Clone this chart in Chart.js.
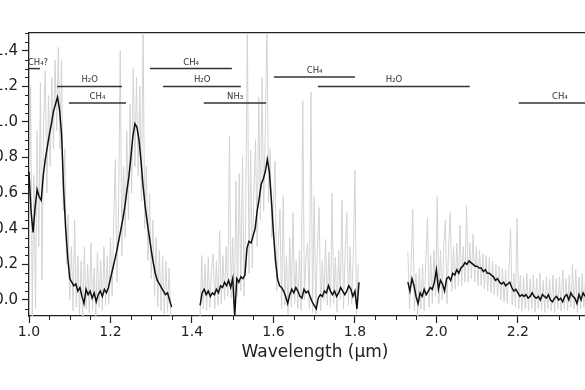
<!DOCTYPE html>
<html>
<head>
<meta charset="utf-8">
<script src="https://cdn.jsdelivr.net/npm/chart.js@4"></script>
<style>
  html, body { margin: 0; padding: 0; background: #fff; overflow: hidden; width: 585px; height: 390px; }
  #wrap { position: absolute; left: -20px; top: 0; width: 680px; height: 390px; }
</style>
</head>
<body>
<div id="wrap"><canvas id="spec" width="680" height="390"></canvas></div>
<script>
// wavelength grid (um): start of each segment, sample step
const blackStart = [1.00, 1.42, 1.93];
const blackStep = 0.005;
const grayStart = [1.00, 1.42, 1.93];
const grayStep = 0.004;

// smoothed spectrum (black)
const black1 = [0.72,0.50,0.38,0.52,0.62,0.58,0.56,0.70,0.79,0.86,
  0.93,0.99,1.06,1.10,1.14,1.07,0.93,0.62,0.40,0.24,
  0.12,0.10,0.08,0.09,0.05,0.07,0.02,-0.02,0.06,0.03,
  0.05,0.01,0.04,-0.01,0.03,0.05,0.02,0.06,0.04,0.07,
  0.12,0.17,0.22,0.27,0.33,0.39,0.45,0.52,0.61,0.69,
  0.80,0.92,0.99,0.97,0.90,0.78,0.64,0.53,0.44,0.36,
  0.28,0.21,0.15,0.11,0.09,0.07,0.05,0.03,0.04,0.00,
  -0.04];
const black2 = [-0.03,0.04,0.06,0.03,0.05,0.02,0.04,0.03,0.06,0.04,
  0.08,0.07,0.10,0.08,0.11,0.07,0.12,-0.09,0.12,0.10,
  0.13,0.12,0.14,0.29,0.33,0.32,0.36,0.40,0.50,0.57,
  0.65,0.68,0.72,0.79,0.72,0.56,0.38,0.22,0.12,0.08,
  0.07,0.05,0.02,-0.02,0.03,0.06,0.04,0.07,0.05,0.02,
  0.01,0.06,0.04,0.05,0.02,-0.01,-0.03,-0.05,0.01,0.03,
  0.02,0.05,0.04,0.08,0.05,0.03,0.05,0.02,0.04,0.07,
  0.05,0.03,0.05,0.08,0.06,0.02,0.05,-0.05,0.10];
const black3 = [0.10,0.05,0.12,0.08,0.02,-0.02,0.04,0.02,0.06,0.03,
  0.05,0.07,0.06,0.10,0.17,0.06,0.11,0.09,0.05,0.12,
  0.13,0.11,0.15,0.14,0.17,0.15,0.18,0.19,0.21,0.20,
  0.22,0.21,0.20,0.19,0.19,0.18,0.18,0.16,0.17,0.15,
  0.15,0.14,0.13,0.11,0.12,0.10,0.09,0.10,0.08,0.09,
  0.10,0.07,0.05,0.06,0.04,0.02,0.03,0.02,0.03,0.01,
  0.02,0.04,0.02,0.01,0.02,0.00,0.03,0.02,0.01,0.03,
  0.00,-0.01,0.01,0.02,0.00,0.01,-0.01,0.02,0.03,0.00,
  0.04,0.02,0.01,-0.02,0.03,0.00,0.04,0.02];

// raw spectrum (grey)
const gray1 = [0.30,1.20,-0.09,0.70,-0.05,0.95,0.30,1.22,0.11,1.00,
  1.29,0.60,1.15,0.75,1.25,0.85,1.35,0.95,1.42,0.85,
  1.35,0.50,0.85,0.20,0.48,0.00,0.30,-0.06,0.45,-0.04,
  0.25,-0.08,0.22,-0.09,0.30,-0.05,0.20,-0.07,0.32,-0.06,
  0.18,-0.09,0.27,-0.04,0.22,-0.06,0.30,-0.03,0.25,-0.02,
  0.35,0.02,0.45,0.79,0.10,0.55,1.40,0.25,0.75,0.35,
  0.95,0.45,1.10,0.60,1.30,0.75,1.25,0.70,1.20,0.55,
  1.55,0.40,0.75,0.22,0.60,0.12,0.45,0.02,0.35,-0.04,
  0.28,-0.06,0.25,-0.08,0.22,-0.07,0.18,-0.09];
const gray2 = [-0.09,0.25,-0.05,0.20,-0.06,0.24,-0.04,0.18,0.26,-0.05,
  0.22,-0.03,0.39,-0.02,0.25,0.00,0.30,0.02,0.92,0.01,
  0.35,-0.09,0.67,0.02,0.71,0.05,0.81,0.02,0.50,1.55,
  0.15,0.84,0.18,0.60,0.90,0.30,1.14,0.45,1.25,0.50,
  0.95,1.55,0.55,0.85,0.35,0.55,0.78,0.05,0.30,0.51,
  -0.05,0.58,-0.03,0.25,-0.08,0.35,-0.04,0.49,-0.02,0.22,
  -0.05,0.28,-0.06,1.12,0.00,0.25,0.32,-0.05,1.17,-0.07,
  0.58,-0.08,0.30,0.52,-0.06,0.22,0.00,0.34,-0.03,0.27,
  -0.04,0.60,-0.02,0.24,-0.07,0.28,0.00,0.56,-0.05,0.26,
  0.49,-0.03,0.30,-0.02,0.25,0.73,-0.08,0.20];
const gray3 = [0.27,-0.05,0.20,0.51,-0.06,0.15,-0.09,0.18,-0.05,0.20,
  -0.06,0.22,0.46,-0.04,0.25,-0.02,0.28,0.02,0.58,-0.02,
  0.28,0.00,0.30,0.45,-0.02,0.30,0.49,0.05,0.30,0.06,
  0.32,0.08,0.42,0.08,0.30,0.10,0.53,0.10,0.32,0.12,
  0.37,0.10,0.30,0.08,0.28,0.08,0.26,0.06,0.25,0.05,
  0.24,0.04,0.22,0.03,0.20,0.02,0.19,0.00,0.18,-0.01,
  0.17,-0.02,0.16,0.40,-0.03,0.15,-0.04,0.46,-0.05,0.14,
  -0.06,0.13,-0.05,0.15,-0.06,0.12,-0.05,0.14,-0.07,0.12,
  -0.05,0.15,-0.06,0.11,-0.07,0.13,-0.05,0.12,-0.06,0.14,
  -0.07,0.12,-0.05,0.13,-0.06,0.17,-0.05,0.12,-0.06,0.14,
  -0.04,0.20,-0.05,0.17,-0.07,0.13,-0.05,0.15,-0.04,0.12];

// absorption band markers
const annNames  = ['CH₄?', 'H₂O', 'CH₄', 'CH₄', 'H₂O', 'NH₃', 'CH₄', 'H₂O', 'CH₄'];
const annStart  = [1.000, 1.069, 1.098, 1.297, 1.329, 1.429, 1.601, 1.709, 2.202];
const annEnd    = [1.027, 1.228, 1.238, 1.498, 1.520, 1.582, 1.800, 2.082, 2.404];
const annLevel  = [1.300, 1.200, 1.107, 1.300, 1.200, 1.107, 1.253, 1.200, 1.107];
const annLabelX = [1.022, 1.149, 1.168, 1.398, 1.425, 1.506, 1.701, 1.896, 2.303];

const blackSegs = [black1, black2, black3];
const graySegs = [gray1, gray2, gray3];

const isMajor = (v) => Math.abs(v / 0.2 - Math.round(v / 0.2)) < 1e-6;
const axisColor = '#222';

Chart.defaults.font.family = "'DejaVu Sans', sans-serif";
Chart.defaults.color = axisColor;

const datasets = [];
graySegs.forEach((vals, s) => {
  datasets.push({
    data: vals.map((v, i) => ({ x: grayStart[s] + i * grayStep, y: v })),
    borderColor: '#d3d3d3', borderWidth: 1, pointRadius: 0, order: 3
  });
});
blackSegs.forEach((vals, s) => {
  datasets.push({
    data: vals.map((v, i) => ({ x: blackStart[s] + i * blackStep, y: v })),
    borderColor: '#111', borderWidth: 1.5, pointRadius: 0, order: 0
  });
});
annNames.forEach((n, i) => {
  datasets.push({
    data: [{ x: annStart[i], y: annLevel[i] }, { x: annEnd[i], y: annLevel[i] }],
    borderColor: '#333', borderWidth: 1.5, pointRadius: 0, order: 1
  });
});

// short minor ticks, outward
const minorTicks = {
  id: 'minorTicks',
  afterDraw(chart) {
    const { ctx, chartArea } = chart;
    const xs = chart.scales.x, ys = chart.scales.y;
    ctx.save();
    ctx.strokeStyle = axisColor;
    ctx.lineWidth = 1;
    xs.ticks.forEach(t => {
      if (isMajor(t.value)) return;
      const px = Math.round(xs.getPixelForValue(t.value)) + 0.5;
      ctx.beginPath(); ctx.moveTo(px, chartArea.bottom); ctx.lineTo(px, chartArea.bottom + 4); ctx.stroke();
    });
    ys.ticks.forEach(t => {
      if (isMajor(t.value)) return;
      const py = Math.round(ys.getPixelForValue(t.value)) + 0.5;
      ctx.beginPath(); ctx.moveTo(chartArea.left, py); ctx.lineTo(chartArea.left - 4, py); ctx.stroke();
    });
    ctx.restore();
  }
};

// molecule names above each band line
const bandLabels = {
  id: 'bandLabels',
  afterDatasetsDraw(chart) {
    const { ctx } = chart;
    const xs = chart.scales.x, ys = chart.scales.y;
    ctx.save();
    ctx.font = "8.5px 'DejaVu Sans'";
    ctx.fillStyle = '#333';
    ctx.textAlign = 'center';
    ctx.textBaseline = 'bottom';
    annNames.forEach((n, i) => {
      ctx.fillText(n, xs.getPixelForValue(annLabelX[i]), ys.getPixelForValue(annLevel[i]) - 2);
    });
    ctx.restore();
  }
};

new Chart(document.getElementById('spec'), {
  type: 'line',
  data: { datasets: datasets },
  options: {
    responsive: false,
    animation: false,
    devicePixelRatio: 1,
    events: [],
    layout: { padding: { top: 33, right: 59, bottom: 0, left: 0 } },
    plugins: { legend: { display: false }, tooltip: { enabled: false } },
    elements: { line: { tension: 0 } },
    scales: {
      x: {
        type: 'linear', position: 'bottom', min: 1.0, max: 2.404,
        afterFit: (s) => { s.height = 74; },
        border: { color: axisColor, width: 1.3 },
        grid: {
          drawOnChartArea: false, tickLength: 7, tickWidth: 1.2,
          tickColor: (c) => isMajor(c.tick.value) ? axisColor : 'rgba(0,0,0,0)'
        },
        ticks: {
          stepSize: 0.05, includeBounds: false, autoSkip: false, maxRotation: 0,
          padding: 1, font: { size: 14 },
          callback: (v) => isMajor(v) ? v.toFixed(1) : ''
        },
        title: {
          display: true, text: 'Wavelength (μm)', font: { size: 17 },
          padding: { top: 0, bottom: 27 }
        }
      },
      x2: {
        type: 'linear', position: 'top', min: 1.0, max: 2.404,
        afterFit: (s) => { s.height = 0; },
        border: { color: axisColor, width: 1.3 },
        grid: { drawOnChartArea: false, drawTicks: false },
        ticks: { display: false }
      },
      y: {
        type: 'linear', min: -0.09, max: 1.5,
        afterFit: (s) => { s.width = 49; },
        border: { color: axisColor, width: 1.3 },
        grid: {
          drawOnChartArea: false, tickLength: 7, tickWidth: 1.2,
          tickColor: (c) => isMajor(c.tick.value) ? axisColor : 'rgba(0,0,0,0)'
        },
        ticks: {
          stepSize: 0.05, includeBounds: false, autoSkip: false,
          padding: 4, font: { size: 15 },
          callback: (v) => isMajor(v) ? (Math.abs(v) < 1e-9 ? 0 : v).toFixed(1) : ''
        }
      }
    }
  },
  plugins: [minorTicks, bandLabels]
});
</script>
</body>
</html>
